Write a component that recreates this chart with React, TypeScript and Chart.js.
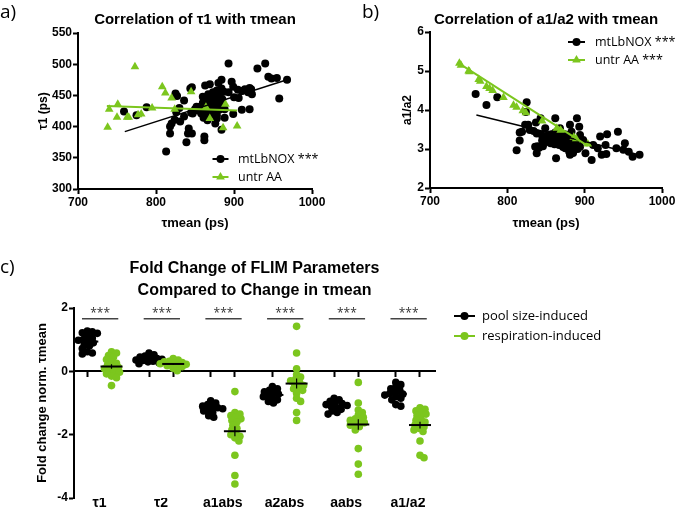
import React, { useEffect, useRef } from 'react';
import { Chart, registerables } from 'chart.js';
Chart.register(...registerables);

const GREEN = '#7cc61e';
const BLACK = '#000000';
const FONT = '"Liberation Sans", Arial, Helvetica, sans-serif';
const LEGEND_FONT = '"Open Sans", "Liberation Sans", sans-serif';

// ---------- Panel a: tau1 vs tau-mean ----------
const aNoxX = [759, 775, 788, 813, 818, 818, 824, 826, 825, 827, 836, 836, 839, 841, 842, 844, 846, 846, 847, 854,
  856, 863, 862, 866, 869, 874, 884, 893, 940, 930, 860, 880, 884, 897, 899, 944, 948, 955, 968, 920,
  922, 914, 905, 918, 923, 910, 958, 920, 910, 899, 888, 888, 878, 878, 876, 884, 862, 861, 864, 857,
  860, 862, 864, 866, 867, 868, 869, 870, 871, 872, 873, 874, 875, 876, 877, 878, 879, 880, 881, 882,
  883, 885, 886, 887, 868, 872, 858, 852, 850, 820, 830, 845, 900, 893, 906, 831];
const aNoxY = [424, 418, 431, 360, 400, 389, 411, 423, 453, 449, 442, 416, 375, 389, 397, 461, 463, 389, 421, 426,
  431, 466, 378, 410, 468, 440, 475, 501, 501, 493, 448, 470, 461, 472, 464, 480, 477, 478, 475, 462,
  460, 460, 459, 455, 452, 457, 445, 428, 427, 420, 428, 414, 418, 413, 405, 395, 384, 414, 420, 432,
  438, 428, 445, 436, 452, 430, 442, 425, 448, 436, 455, 431, 446, 422, 440, 458, 433, 447, 427, 452,
  438, 444, 432, 456, 420, 419, 421, 432, 428, 405, 430, 422, 447, 455, 446, 408];
const aAAX = [738, 740, 750, 751, 763, 765, 773, 777, 781, 795, 808, 812, 820, 824, 845, 864, 869, 886, 889, 904];
const aAAY = [399, 428, 415, 436, 415, 415, 496, 419, 420, 430, 464, 454, 446, 428, 456, 431, 413, 398, 436, 401];
const aNoxFitX = [760, 970];
const aNoxFitY = [392, 476];
const aAAFitX = [737, 904];
const aAAFitY = [433, 426];

// ---------- Panel b: a1/a2 vs tau-mean ----------
const bNoxX = [759, 773, 787, 825, 824, 812, 816, 816, 823, 827, 819, 829, 834, 838, 837, 843, 838, 839, 836, 841,
  846, 844, 849, 853, 858, 862, 863, 868, 881, 883, 890, 893, 894, 875, 880, 881, 885, 894, 898, 901,
  909, 911, 917, 920, 922, 927, 929, 941, 943, 950, 952, 957, 962, 971, 928, 855, 856, 857, 859, 860,
  861, 862, 863, 864, 865, 866, 867, 868, 869, 870, 871, 872, 873, 874, 875, 876, 877, 878, 879, 880,
  884, 887, 889, 891, 850, 848, 845];
const bNoxY = [4.41, 4.13, 4.33, 4.20, 3.95, 2.97, 3.42, 3.22, 3.62, 3.62, 3.44, 3.49, 3.46, 3.40, 3.68, 3.79, 2.89, 3.07, 3.06, 3.03,
  3.07, 3.37, 3.53, 3.36, 3.32, 3.79, 2.76, 3.53, 3.62, 3.44, 3.79, 3.57, 3.36, 3.02, 2.93, 2.85, 2.90, 3.06, 3.23, 2.89,
  2.72, 3.10, 3.02, 3.32, 2.85, 3.10, 3.38, 3.02, 3.44, 2.98, 3.15, 2.93, 2.80, 2.85, 2.87, 3.25, 3.15, 3.38, 3.20, 3.30,
  3.12, 3.42, 3.22, 3.35, 3.18, 3.28, 3.10, 3.40, 3.25, 3.15, 3.33, 3.05, 3.22, 3.38, 3.12, 3.28, 3.18, 3.35, 3.08, 3.25,
  3.15, 3.05, 3.22, 3.00, 3.18, 3.28, 3.22];
const bAAX = [738, 740, 750, 751, 763, 765, 773, 777, 781, 795, 808, 812, 820, 824, 845, 864, 869, 886, 889, 904];
const bAAY = [5.20, 5.15, 5.00, 4.98, 4.78, 4.74, 4.60, 4.55, 4.50, 4.32, 4.12, 4.07, 3.98, 3.93, 3.72, 3.53, 3.48, 3.30, 3.26, 3.13];
const bNoxFitX = [760, 970];
const bNoxFitY = [3.87, 2.85];
const bAAFitX = [737, 904];
const bAAFitY = [5.20, 3.08];

// ---------- Panel c: fold change ----------
const cCategories = ['τ1', 'τ2', 'a1abs', 'a2abs', 'aabs', 'a1/a2'];
const poolTau1 = [1.27, 1.25, 1.22, 1.2, 1.1, 1.05, 1.0, 0.98, 0.95, 0.9, 0.85, 0.8, 0.72, 0.62, 0.58, 0.55];
const respTau1 = [0.62, 0.58, 0.5, 0.45, 0.37, 0.3, 0.25, 0.2, 0.15, 0.12, 0.08, 0.03, 0.0, -0.03, -0.08, -0.15, -0.2, -0.45];
const poolTau2 = [0.58, 0.52, 0.48, 0.45, 0.42, 0.4, 0.38, 0.36, 0.34, 0.32, 0.3, 0.27, 0.24];
const respTau2 = [0.4, 0.36, 0.32, 0.3, 0.28, 0.26, 0.24, 0.22, 0.2, 0.18, 0.15, 0.1, 0.02];
const poolA1abs = [-0.93, -1.0, -1.05, -1.1, -1.12, -1.15, -1.18, -1.2, -1.25, -1.3, -1.4, -1.45];
const respA1abs = [-0.64, -1.3, -1.35, -1.4, -1.45, -1.5, -1.55, -1.6, -1.7, -1.8, -1.85, -1.95, -2.0, -2.05, -2.1, -2.2, -2.65, -3.29, -3.56];
const poolA2abs = [-0.48, -0.55, -0.6, -0.65, -0.7, -0.72, -0.75, -0.8, -0.85, -0.9, -0.95, -1.0];
const respA2abs = [1.42, 0.58, 0.08, -0.1, -0.18, -0.25, -0.3, -0.35, -0.4, -0.45, -0.5, -0.55, -0.6, -0.7, -0.85, -0.95, -1.3, -1.55];
const poolAabs = [-0.85, -0.9, -0.95, -1.0, -1.02, -1.05, -1.08, -1.1, -1.15, -1.2, -1.25, -1.3, -1.35];
const respAabs = [-0.35, -1.0, -1.22, -1.3, -1.38, -1.45, -1.5, -1.55, -1.58, -1.62, -1.66, -1.7, -1.75, -1.85, -2.44, -2.93, -3.25];
const poolRatio = [-0.35, -0.42, -0.5, -0.55, -0.6, -0.65, -0.7, -0.72, -0.75, -0.8, -0.85, -0.9, -1.05, -1.1];
const respRatio = [-1.15, -1.2, -1.25, -1.3, -1.35, -1.4, -1.5, -1.55, -1.6, -1.65, -1.7, -1.75, -1.8, -1.85, -1.9, -2.2, -2.65, -2.73];
const cSignificance = ['***', '***', '***', '***', '***', '***'];

const poolGroups = [poolTau1, poolTau2, poolA1abs, poolA2abs, poolAabs, poolRatio];
const respGroups = [respTau1, respTau2, respA1abs, respA2abs, respAabs, respRatio];

// layout constants for panel c (style)
const GROUP_STEP = 2.55;
const C_XMIN = -0.55;
const C_XMAX = 14.37;
const PX_PER_X = 24.2;
const PX_PER_Y = 32;
const SWARM_DIAM = 4.6;
const SWARM_MAX = 13;
const colPos = (g: number, k: number) => g * GROUP_STEP + k;

function mean(a: number[]) { return a.reduce((s, v) => s + v, 0) / a.length; }
function sem(a: number[]) {
  const m = mean(a);
  const sd = Math.sqrt(a.reduce((s, v) => s + (v - m) * (v - m), 0) / (a.length - 1));
  return sd / Math.sqrt(a.length);
}

// deterministic beeswarm arrangement (pixel-space, overlapping allowed)
function swarm(values: number[], center: number) {
  const placed: { x: number; y: number }[] = [];
  const order = values.map((_, i) => i).sort((a, b) => values[b] - values[a]);
  const out: { x: number; y: number }[] = new Array(values.length);
  for (const i of order) {
    const yp = values[i] * PX_PER_Y;
    let chosen = 0;
    let bestD = -1;
    for (let k = 0; k <= SWARM_MAX * 2; k++) {
      const off = (k % 2 === 1 ? 1 : -1) * Math.ceil(k / 2);
      const d = placed.reduce((m, p) => Math.min(m, Math.hypot(p.x - off, p.y - yp)), Infinity);
      if (d >= SWARM_DIAM) { chosen = off; bestD = d; break; }
      if (d > bestD) { bestD = d; chosen = off; }
    }
    placed.push({ x: chosen, y: yp });
    out[i] = { x: center + chosen / PX_PER_X, y: values[i] };
  }
  return out;
}

type LegendCfg = { datasets: number[]; cx: number; half: number; textX: number; y0: number; dy: number; size: number };

function drawMarker(ctx: CanvasRenderingContext2D, style: string, x: number, y: number, r: number, color: string) {
  ctx.fillStyle = color;
  ctx.beginPath();
  if (style === 'triangle') {
    let rad = 0;
    ctx.moveTo(x + Math.sin(rad) * r, y - Math.cos(rad) * r);
    rad += (2 * Math.PI) / 3;
    ctx.lineTo(x + Math.sin(rad) * r, y - Math.cos(rad) * r);
    rad += (2 * Math.PI) / 3;
    ctx.lineTo(x + Math.sin(rad) * r, y - Math.cos(rad) * r);
    ctx.closePath();
  } else {
    ctx.arc(x, y, r, 0, Math.PI * 2);
  }
  ctx.fill();
}

function legendPlugin(id: string, cfg: LegendCfg) {
  return {
    id,
    afterDraw(chart: any) {
      const ctx: CanvasRenderingContext2D = chart.ctx;
      ctx.save();
      cfg.datasets.forEach((di, row) => {
        const ds = chart.data.datasets[di];
        const y = cfg.y0 + row * cfg.dy;
        const color = ds.backgroundColor as string;
        ctx.strokeStyle = color;
        ctx.lineWidth = 2;
        ctx.beginPath();
        ctx.moveTo(cfg.cx - cfg.half, y);
        ctx.lineTo(cfg.cx + cfg.half, y);
        ctx.stroke();
        drawMarker(ctx, ds.pointStyle, cfg.cx, y, ds.legendRadius ?? ds.pointRadius, color);
        ctx.fillStyle = '#000';
        ctx.font = `${cfg.size}px ${LEGEND_FONT}`;
        ctx.textAlign = 'left';
        ctx.textBaseline = 'middle';
        ctx.fillText(ds.label, cfg.textX, y);
      });
      ctx.restore();
    },
  };
}

const tickFont = { family: FONT, size: 12, weight: 'bold' as const };
const plainTick = (v: any) => String(v);

function linAxis(min: number, max: number, step: number, extra: any) {
  return {
    type: 'linear',
    min, max,
    ticks: { stepSize: step, font: tickFont, color: '#000', padding: 1, callback: plainTick },
    grid: { drawOnChartArea: false, tickLength: 5, tickColor: '#000', tickWidth: 2 },
    border: { color: '#000', width: 2 },
    ...extra,
  };
}

function pts(xs: number[], ys: number[]) { return xs.map((x, i) => ({ x, y: ys[i] })); }

function scatterConfig(p: {
  title: string; yTitle: string; yMin: number; yMax: number; yStep: number;
  noxX: number[]; noxY: number[]; aaX: number[]; aaY: number[];
  noxFitX: number[]; noxFitY: number[]; aaFitX: number[]; aaFitY: number[];
  noxLabel: string; aaLabel: string;
  yAxisWidth: number; yTitlePad: number; xAxisHeight: number; padRight: number; titleBottom: number;
  legend: LegendCfg; id: string;
}): any {
  return {
    type: 'scatter',
    data: {
      datasets: [
        { label: p.noxLabel, data: pts(p.noxX, p.noxY), pointStyle: 'circle', pointRadius: 4, backgroundColor: BLACK, borderColor: BLACK, borderWidth: 0, order: 4 },
        { label: p.aaLabel, data: pts(p.aaX, p.aaY), pointStyle: 'triangle', pointRadius: 5, legendRadius: 5, backgroundColor: GREEN, borderColor: GREEN, borderWidth: 0, order: 3 },
        { type: 'line', label: 'fit1', data: pts(p.noxFitX, p.noxFitY), borderColor: BLACK, borderWidth: 1.5, pointRadius: 0, order: 2 },
        { type: 'line', label: 'fit2', data: pts(p.aaFitX, p.aaFitY), borderColor: GREEN, borderWidth: 2, pointRadius: 0, order: 1 },
      ],
    },
    options: {
      responsive: false,
      animation: false,
      events: [],
      layout: { padding: { left: 0, right: p.padRight, top: 0, bottom: 0 } },
      plugins: {
        legend: { display: false },
        tooltip: { enabled: false },
        title: {
          display: true, text: p.title, fullSize: false, color: '#000',
          font: { family: FONT, size: 15, weight: 'bold', lineHeight: 1.2 },
          padding: { top: 11, bottom: p.titleBottom },
        },
      },
      scales: {
        x: linAxis(700, 1000, 100, {
          afterFit: (s: any) => { s.height = p.xAxisHeight; s.paddingLeft = 0; s.paddingRight = 0; },
          title: { display: true, text: 'τmean (ps)', font: { family: FONT, size: 13, weight: 'bold' }, color: '#000', padding: { top: 0, bottom: 9 } },
        }),
        y: linAxis(p.yMin, p.yMax, p.yStep, {
          afterFit: (s: any) => { s.width = p.yAxisWidth; s.paddingTop = 0; s.paddingBottom = 0; },
          title: { display: true, text: p.yTitle, font: { family: FONT, size: 12, weight: 'bold' }, color: '#000', padding: { top: p.yTitlePad, bottom: 0 } },
        }),
      },
    },
    plugins: [legendPlugin(p.id, p.legend)],
  };
}

function foldConfig(): any {
  const poolPts: any[] = [];
  const respPts: any[] = [];
  const means: any[] = [];
  const errs: any[] = [];
  const brackets: any[] = [];
  const cols: number[] = [];
  const centers: number[] = [];
  poolGroups.forEach((vals, g) => {
    const p0 = colPos(g, 0);
    const p1 = colPos(g, 1);
    cols.push(p0, p1);
    centers.push((p0 + p1) / 2);
    poolPts.push(...swarm(vals, p0));
    respPts.push(...swarm(respGroups[g], p1));
    [[vals, p0], [respGroups[g], p1]].forEach(([v, p]: any) => {
      const m = mean(v); const e = sem(v);
      means.push({ x: p, y: m });
      errs.push({ x: p, y: m - e }, { x: p, y: m + e }, { x: p, y: null });
    });
    brackets.push({ x: p0 - 0.22, y: 1.66 }, { x: p1 + 0.28, y: 1.66 }, { x: p1 + 0.5, y: null });
  });

  const starsPlugin = {
    id: 'stars',
    afterDatasetsDraw(chart: any) {
      const ctx: CanvasRenderingContext2D = chart.ctx;
      const xs = chart.scales.x; const ys = chart.scales.y;
      ctx.save();
      ctx.fillStyle = '#333';
      ctx.font = `12px ${LEGEND_FONT}`;
      ctx.textAlign = 'center';
      ctx.textBaseline = 'middle';
      centers.forEach((c, i) => {
        ctx.fillText(cSignificance[i], xs.getPixelForValue(c + 0.03), ys.getPixelForValue(1.92) + 3);
      });
      ctx.restore();
    },
  };

  return {
    type: 'scatter',
    data: {
      datasets: [
        { label: 'pool size-induced', data: poolPts, pointStyle: 'circle', pointRadius: 3.8, legendRadius: 4, backgroundColor: BLACK, borderWidth: 0, order: 5 },
        { label: 'respiration-induced', data: respPts, pointStyle: 'circle', pointRadius: 3.8, legendRadius: 4, backgroundColor: GREEN, borderWidth: 0, order: 4 },
        { label: 'mean', data: means, pointStyle: 'line', pointRadius: 11, borderColor: BLACK, borderWidth: 2, order: 2 },
        { type: 'line', label: 'sem', data: errs, borderColor: BLACK, borderWidth: 1.2, pointRadius: 0, spanGaps: false, order: 3 },
        { type: 'line', label: 'brackets', data: brackets, borderColor: '#444', borderWidth: 1.5, pointRadius: 0, spanGaps: false, order: 1 },
      ],
    },
    options: {
      responsive: false,
      animation: false,
      events: [],
      layout: { padding: { left: 0, right: 240, top: 0, bottom: 0 } },
      plugins: {
        legend: { display: false },
        tooltip: { enabled: false },
        title: {
          display: true, fullSize: false, color: '#000',
          text: ['Fold Change of FLIM Parameters', 'Compared to Change in τmean'],
          font: { family: FONT, size: 16, weight: 'bold', lineHeight: 1.375 },
          padding: { top: 18, bottom: 6 },
        },
      },
      scales: {
        x: {
          type: 'linear', min: C_XMIN, max: C_XMAX, position: { y: 0 },
          afterBuildTicks: (s: any) => { s.ticks = cols.map(v => ({ value: v })); },
          ticks: { display: false },
          grid: { drawOnChartArea: false, tickLength: 5, tickColor: '#000', tickWidth: 2 },
          border: { color: '#000', width: 2 },
          afterFit: (s: any) => { s.paddingLeft = 0; s.paddingRight = 0; },
        },
        xb: {
          type: 'linear', axis: 'x', position: 'bottom', min: C_XMIN, max: C_XMAX,
          afterBuildTicks: (s: any) => { s.ticks = centers.map(v => ({ value: v })); },
          ticks: { autoSkip: false, maxRotation: 0, font: { family: FONT, size: 14, weight: 'bold' }, color: '#000', padding: -3, callback: (_v: any, i: number) => cCategories[i] },
          grid: { display: false, drawTicks: false },
          border: { display: false },
          afterFit: (s: any) => { s.height = 11; s.paddingLeft = 0; s.paddingRight = 0; },
        },
        y: {
          type: 'linear', min: -4, max: 2,
          ticks: { stepSize: 2, font: tickFont, color: '#000', padding: 1, callback: plainTick },
          grid: { drawOnChartArea: false, tickLength: 5, tickColor: '#000', tickWidth: 2 },
          border: { color: '#000', width: 2 },
          title: { display: true, text: 'Fold change norm. τmean', font: { family: FONT, size: 13, weight: 'bold' }, color: '#000', padding: { top: 35, bottom: 0 } },
          afterFit: (s: any) => { s.width = 74; s.paddingTop = 0; s.paddingBottom = 0; },
        },
      },
    },
    plugins: [starsPlugin, legendPlugin('legendC', { datasets: [0, 1], cx: 464.5, half: 10.5, textX: 482, y0: 76, dy: 20, size: 13 })],
  };
}

function ChartCanvas({ config, left, top, width, height }: { config: () => any; left: number; top: number; width: number; height: number }) {
  const ref = useRef<HTMLCanvasElement | null>(null);
  useEffect(() => {
    if (!ref.current) return;
    const chart = new Chart(ref.current, config());
    return () => chart.destroy();
  }, []);
  return (
    <canvas ref={ref} width={width} height={height}
      style={{ position: 'absolute', left, top, width, height, display: 'block' }} />
  );
}

const panelLabel = (text: string, left: number, top: number) => (
  <div style={{ position: 'absolute', left, top, font: `19px ${LEGEND_FONT}`, lineHeight: '20px', color: '#000' }}>{text}</div>
);

export default function App() {
  const cfgA = () => scatterConfig({
    id: 'legendA', title: 'Correlation of τ1 with τmean', yTitle: 'τ1 (ps)', yMin: 300, yMax: 550, yStep: 50,
    noxX: aNoxX, noxY: aNoxY, aaX: aAAX, aaY: aAAY,
    noxFitX: aNoxFitX, noxFitY: aNoxFitY, aaFitX: aAAFitX, aaFitY: aAAFitY,
    noxLabel: 'mtLbNOX ***', aaLabel: 'untr AA',
    yAxisWidth: 78, yTitlePad: 36, xAxisHeight: 51, padRight: 23, titleBottom: 4,
    legend: { datasets: [0, 1], cx: 220.5, half: 8, textX: 238, y0: 159, dy: 18, size: 12.5 },
  });
  const cfgB = () => scatterConfig({
    id: 'legendB', title: 'Correlation of a1/a2 with τmean', yTitle: 'a1/a2', yMin: 2, yMax: 6, yStep: 1,
    noxX: bNoxX, noxY: bNoxY, aaX: bAAX, aaY: bAAY,
    noxFitX: bNoxFitX, noxFitY: bNoxFitY, aaFitX: bAAFitX, aaFitY: bAAFitY,
    noxLabel: 'mtLbNOX ***', aaLabel: 'untr AA ***',
    yAxisWidth: 95, yTitlePad: 65, xAxisHeight: 52, padRight: 13, titleBottom: 3,
    legend: { datasets: [0, 1], cx: 241.5, half: 8.5, textX: 260, y0: 42, dy: 18, size: 12.5 },
  });
  return (
    <div style={{ position: 'absolute', left: 0, top: 0, width: 675, height: 511, background: '#fff', overflow: 'hidden' }}>
      <ChartCanvas config={cfgA} left={0} top={0} width={335} height={240} />
      <ChartCanvas config={cfgB} left={335} top={0} width={340} height={240} />
      <ChartCanvas config={foldConfig} left={0} top={240} width={675} height={271} />
      {panelLabel('a)', 0, 1)}
      {panelLabel('b)', 362, 1)}
      {panelLabel('c)', 0, 256)}
    </div>
  );
}
